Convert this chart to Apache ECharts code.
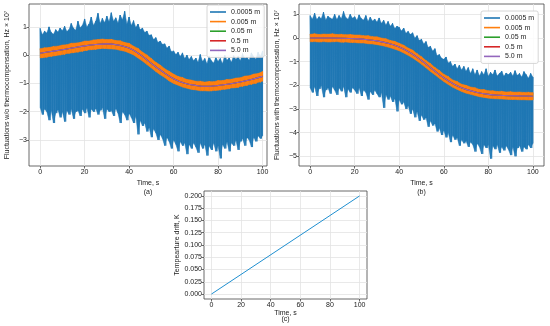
<!DOCTYPE html>
<html><head><meta charset="utf-8">
<script src="https://cdn.jsdelivr.net/npm/echarts@6/dist/echarts.min.js"></script>
<style>html,body{margin:0;padding:0;background:#fff}#c{width:550px;height:326px}</style>
</head><body><div id="c"></div>
<script>
// ---------- categories / ticks ----------
const legendNames = ['0.0005 m', '0.005 m', '0.05 m', '0.5 m', '5.0 m'];
const xTicks = [0, 20, 40, 60, 80, 100];
const yTicksA = [-3, -2, -1, 0, 1];
const yTicksB = [-5, -4, -3, -2, -1, 0, 1];
const yTicksC = [0, 0.025, 0.05, 0.075, 0.1, 0.125, 0.15, 0.175, 0.2];
const blueStep = 1, orangeStep = 2, curveStep = 5;

// ---------- panel (a): w/o thermocompensation ----------
const blueHiA = [
  0.95,0.72,0.85,0.78,1.0,0.8,0.74,0.9,0.82,0.96,
  0.86,1.02,0.84,0.9,1.12,0.95,0.88,1.2,0.97,1.05,
  1.28,1.0,1.1,1.35,1.05,1.2,1.48,1.12,1.3,1.15,
  1.38,1.18,1.5,1.2,1.32,1.14,1.42,1.25,1.55,1.1,
  1.35,1.05,1.22,0.98,1.1,0.9,0.96,0.8,0.85,0.7,
  0.72,0.55,0.62,0.45,0.5,0.38,0.4,0.25,0.32,0.12,
  0.15,0.02,0.1,-0.05,0.08,-0.12,0.0,-0.15,-0.05,-0.2,
  -0.1,-0.25,0.02,-0.22,-0.12,-0.3,-0.05,-0.2,-0.28,-0.08,
  -0.22,-0.12,-0.3,0.0,-0.18,-0.1,-0.25,-0.02,-0.15,-0.05,
  -0.2,0.05,-0.12,-0.08,-0.18,0.08,-0.06,-0.14,0.1,-0.04,
  0.15];
const blueLoA = [
  -1.85,-2.1,-1.9,-2.0,-2.3,-1.95,-2.4,-2.05,-1.92,-2.2,
  -2.0,-2.35,-1.95,-2.1,-1.9,-2.25,-2.0,-1.95,-2.15,-1.9,
  -2.05,-1.85,-2.2,-1.9,-2.0,-1.88,-2.1,-1.95,-1.85,-2.25,
  -1.9,-2.0,-1.95,-2.15,-1.88,-2.05,-2.4,-2.0,-2.1,-2.3,
  -2.05,-2.2,-2.4,-2.15,-2.8,-2.3,-2.5,-2.4,-2.7,-2.55,
  -2.9,-2.6,-2.75,-3.0,-2.8,-2.95,-3.2,-2.9,-3.05,-3.3,
  -3.0,-3.15,-3.4,-3.05,-3.2,-3.1,-3.5,-3.15,-3.3,-3.1,
  -3.25,-3.45,-3.1,-3.3,-3.15,-3.55,-3.2,-3.35,-3.1,-3.4,
  -3.2,-3.65,-3.15,-3.3,-3.05,-3.4,-3.1,-3.2,-3.0,-3.35,
  -3.05,-2.95,-3.2,-2.9,-3.0,-3.25,-2.9,-3.05,-2.85,-2.95,
  -2.85];
const orangeHiA = [
  0.23,0.26,0.27,0.31,0.32,0.36,0.37,0.42,0.43,0.45,
  0.50,0.50,0.54,0.55,0.57,0.55,0.56,0.52,0.51,0.45,
  0.42,0.32,0.24,0.11,0.01,-0.12,-0.25,-0.35,-0.48,-0.57,
  -0.67,-0.75,-0.79,-0.86,-0.88,-0.92,-0.92,-0.95,-0.93,-0.94,
  -0.90,-0.90,-0.86,-0.85,-0.81,-0.80,-0.74,-0.73,-0.67,-0.65,
  -0.58];
const orangeLoA = [
  -0.10,-0.08,-0.05,-0.03,0.00,0.02,0.06,0.08,0.10,0.13,
  0.16,0.19,0.20,0.22,0.24,0.23,0.22,0.21,0.17,0.14,
  0.08,0.01,-0.10,-0.21,-0.33,-0.45,-0.58,-0.69,-0.79,-0.91,
  -1.00,-1.06,-1.13,-1.17,-1.21,-1.23,-1.26,-1.26,-1.27,-1.25,
  -1.24,-1.21,-1.20,-1.16,-1.15,-1.11,-1.08,-1.04,-1.01,-0.96,
  -0.92];
const greenA  = [0.07,0.13,0.19,0.26,0.33,0.38,0.40,0.36,0.25,0.02,-0.29,-0.58,-0.83,-0.99,-1.07,-1.10,-1.07,-1.02,-0.95,-0.86,-0.75];
const redA    = [0.07,0.13,0.19,0.26,0.33,0.38,0.40,0.36,0.25,0.02,-0.29,-0.58,-0.83,-0.99,-1.07,-1.10,-1.07,-1.02,-0.95,-0.86,-0.75];
const purpleA = [0.07,0.13,0.19,0.26,0.33,0.38,0.40,0.36,0.25,0.02,-0.29,-0.58,-0.83,-0.99,-1.07,-1.10,-1.07,-1.02,-0.95,-0.86,-0.75];

// ---------- panel (b): with thermocompensation ----------
const blueHiB = [
  0.95,0.8,1.05,0.78,0.9,0.82,1.1,0.76,0.92,0.85,
  0.8,1.0,0.78,0.95,0.82,1.12,0.86,0.8,1.0,0.84,
  0.9,0.75,0.98,0.82,0.76,0.95,0.7,0.88,0.72,0.8,
  0.68,0.85,0.62,0.75,0.55,0.7,0.5,0.62,0.4,0.5,
  0.45,0.3,0.42,0.2,0.28,0.15,0.22,0.0,0.1,-0.1,
  -0.05,-0.25,-0.15,-0.4,-0.35,-0.55,-0.45,-0.75,-0.7,-0.85,
  -0.9,-0.8,-1.05,-1.0,-1.2,-1.1,-1.3,-1.15,-1.35,-1.2,
  -1.4,-1.25,-1.5,-1.3,-1.55,-1.35,-1.6,-1.42,-1.55,-1.3,
  -1.62,-1.45,-1.55,-1.35,-1.6,-1.5,-1.4,-1.62,-1.48,-1.55,
  -1.45,-1.6,-1.38,-1.58,-1.5,-1.65,-1.42,-1.55,-1.7,-1.5,
  -1.65];
const blueLoB = [
  -2.1,-2.3,-2.05,-2.45,-2.15,-2.0,-2.5,-2.2,-2.1,-2.35,
  -2.05,-2.2,-2.4,-2.1,-2.25,-2.05,-2.5,-2.15,-2.3,-2.1,
  -2.2,-2.35,-2.1,-2.45,-2.2,-2.3,-2.6,-2.25,-2.4,-2.2,
  -2.35,-2.5,-2.3,-2.95,-2.4,-2.6,-2.45,-2.7,-2.55,-3.1,
  -2.6,-2.8,-2.7,-3.0,-2.85,-3.2,-3.0,-3.35,-3.1,-3.5,
  -3.25,-3.45,-3.35,-3.75,-3.5,-3.7,-3.6,-3.95,-3.8,-4.1,
  -3.9,-4.2,-4.0,-4.4,-4.1,-4.3,-4.2,-4.55,-4.3,-4.45,
  -4.35,-4.6,-4.4,-4.5,-4.8,-4.45,-4.6,-4.9,-4.5,-4.65,
  -4.5,-5.1,-4.55,-4.7,-4.5,-4.85,-4.6,-4.75,-4.55,-4.7,
  -4.95,-4.6,-5.0,-4.65,-4.55,-4.8,-4.6,-4.7,-4.5,-4.65,
  -4.45];
const orangeHiB = [
  0.16,0.18,0.15,0.17,0.16,0.18,0.15,0.16,0.14,0.15,
  0.13,0.13,0.10,0.10,0.06,0.05,0.00,-0.03,-0.10,-0.14,
  -0.22,-0.30,-0.42,-0.51,-0.66,-0.79,-0.95,-1.08,-1.24,-1.37,
  -1.53,-1.63,-1.77,-1.84,-1.95,-2.00,-2.07,-2.10,-2.17,-2.18,
  -2.23,-2.23,-2.26,-2.25,-2.28,-2.27,-2.29,-2.28,-2.30,-2.29,
  -2.31];
const orangeLoB = [
  -0.16,-0.15,-0.17,-0.15,-0.17,-0.16,-0.15,-0.18,-0.17,-0.19,
  -0.19,-0.21,-0.21,-0.24,-0.25,-0.28,-0.31,-0.36,-0.41,-0.47,
  -0.54,-0.63,-0.73,-0.84,-0.97,-1.11,-1.26,-1.41,-1.55,-1.70,
  -1.84,-1.96,-2.08,-2.17,-2.26,-2.33,-2.38,-2.43,-2.48,-2.51,
  -2.54,-2.56,-2.57,-2.58,-2.59,-2.60,-2.60,-2.61,-2.61,-2.62,
  -2.62];
const greenB  = [0.0,0.0,0.0,-0.01,-0.03,-0.06,-0.12,-0.22,-0.38,-0.62,-0.95,-1.32,-1.68,-1.97,-2.17,-2.30,-2.38,-2.42,-2.44,-2.45,-2.46];
const redB    = [0.0,0.0,0.0,-0.01,-0.03,-0.06,-0.12,-0.22,-0.38,-0.62,-0.95,-1.32,-1.68,-1.97,-2.17,-2.30,-2.38,-2.42,-2.44,-2.45,-2.46];
const purpleB = [0.0,0.0,0.0,-0.01,-0.03,-0.06,-0.12,-0.22,-0.38,-0.62,-0.95,-1.32,-1.68,-1.97,-2.17,-2.30,-2.38,-2.42,-2.44,-2.45,-2.46];

// ---------- panel (c): temperature drift ----------
const driftTime = [0, 100];
const driftK = [0.0, 0.2];

// ---------- build ----------
const COLORS = ['#1f77b4', '#ff7f0e', '#2ca02c', '#d62728', '#9467bd'];
const FONT = 'Liberation Sans, Arial, sans-serif';

function zigzag(hi, lo, step) {
  const pts = [], end = (hi.length - 1) * step;
  for (let i = 0; i < hi.length; i++) {
    const t = i * step;
    pts.push([t, hi[i]]);
    pts.push([Math.min(t + step / 2, end), lo[i]]);
  }
  return pts;
}
function pairs(vals, step) { return vals.map((v, i) => [i * step, v]); }
const minus = v => String(v).replace('-', '\u2212');

function xAx(gi, min, max, nameTxt, gap, lh) {
  return {
    type: 'value', gridIndex: gi, min: min, max: max,
    axisLine: { show: false, onZero: false },
    axisTick: { show: true, length: 2.5, lineStyle: { color: '#444', width: 0.8 }, customValues: xTicks },
    axisLabel: { customValues: xTicks, fontSize: 7, color: '#222', fontFamily: FONT, margin: 2.5 },
    splitLine: { show: true, lineStyle: { color: '#e3e3e3', width: 0.8 } },
    name: nameTxt, nameLocation: 'middle', nameGap: gap,
    nameTextStyle: { fontSize: 7, color: '#222', fontFamily: FONT, lineHeight: lh }
  };
}
function yAx(gi, min, max, ticks, nameTxt, gap, fmt) {
  return {
    type: 'value', gridIndex: gi, min: min, max: max,
    axisLine: { show: false, onZero: false },
    axisTick: { show: true, length: 2.5, lineStyle: { color: '#444', width: 0.8 }, customValues: ticks },
    axisLabel: { customValues: ticks, fontSize: 7, color: '#222', fontFamily: FONT, margin: 2, formatter: fmt },
    splitLine: { show: true, lineStyle: { color: '#e3e3e3', width: 0.8 } },
    name: nameTxt, nameLocation: 'middle', nameGap: gap,
    nameTextStyle: { fontSize: 7, color: '#222', fontFamily: FONT }
  };
}
function legend(left, top) {
  return {
    orient: 'vertical', left: left, top: top, data: legendNames, selectedMode: false, z: 20,
    icon: 'rect', itemWidth: 16, itemHeight: 1.6, itemGap: 1.6,
    padding: [3, 4, 3, 3],
    textStyle: { fontSize: 7, color: '#222', fontFamily: FONT, lineHeight: 8 },
    backgroundColor: 'rgba(255,255,255,0.85)', borderColor: '#ccc', borderWidth: 0.8, borderRadius: 2
  };
}
const base = { type: 'line', showSymbol: false, symbol: 'none', silent: true, animation: false, sampling: 'none' };
// filled band between lo and hi, drawn through the axis scales (api.coord)
function band(ai, hi, lo, step, color, z) {
  const data = hi.map((h, i) => [i * step, lo[i], h]);
  return {
    type: 'custom', xAxisIndex: ai, yAxisIndex: ai, silent: true, animation: false, z: z,
    encode: { x: 0, y: [1, 2] }, data: data,
    renderItem: function (params, api) {
      const i = params.dataIndex;
      if (i >= data.length - 1) return null;
      const a = data[i], b = data[i + 1];
      const pts = [api.coord([a[0], a[2]]), api.coord([b[0], b[2]]), api.coord([b[0], b[1]]), api.coord([a[0], a[1]])];
      return { type: 'polygon', shape: { points: pts }, style: { fill: color, stroke: color, lineWidth: 0.5 } };
    }
  };
}
function panelSeries(ai, bHi, bLo, oHi, oLo, g, r, p) {
  const ax = { xAxisIndex: ai, yAxisIndex: ai };
  return [
    band(ai, bHi, bLo, blueStep, COLORS[0], 2),
    Object.assign({}, base, ax, { z: 3, name: legendNames[0], color: COLORS[0], data: zigzag(bHi, bLo, blueStep), lineStyle: { width: 0.8, color: COLORS[0] } }),
    band(ai, oHi, oLo, orangeStep, COLORS[1], 4),
    Object.assign({}, base, ax, { z: 5, name: legendNames[1], color: COLORS[1], data: zigzag(oHi, oLo, orangeStep), lineStyle: { width: 1, color: COLORS[1] } }),
    Object.assign({}, base, ax, { z: 6, name: legendNames[2], color: COLORS[2], data: pairs(g, curveStep), smooth: 0.4, lineStyle: { width: 1.1, color: COLORS[2] } }),
    Object.assign({}, base, ax, { z: 7, name: legendNames[3], color: COLORS[3], data: pairs(r, curveStep), smooth: 0.4, lineStyle: { width: 1.1, color: COLORS[3] } }),
    Object.assign({}, base, ax, { z: 8, name: legendNames[4], color: COLORS[4], data: pairs(p, curveStep), smooth: 0.4, lineStyle: { width: 1.1, color: COLORS[4] } })
  ];
}

const gridStyle = { show: true, borderColor: '#444', borderWidth: 0.8, backgroundColor: 'transparent' };
const option = {
  animation: false,
  grid: [
    Object.assign({ left: 29, top: 4, width: 238, height: 162 }, gridStyle),
    Object.assign({ left: 299, top: 4, width: 245, height: 162 }, gridStyle),
    Object.assign({ left: 204, top: 191, width: 163, height: 108 }, gridStyle)
  ],
  xAxis: [
    xAx(0, -5, 102, 'Time, s\n(a)', 12.5, 9),
    xAx(1, -5, 105, 'Time, s\n(b)', 12.5, 9),
    xAx(2, -5, 105, 'Time, s\n(c)', 9.5, 6.5)
  ],
  yAxis: [
    yAx(0, -3.92, 1.81, yTicksA, 'Fluctuations w/o thermocompensation, Hz \u00d7 10\u2077', 18, minus),
    yAx(1, -5.41, 1.44, yTicksB, 'Fluctuations with thermocompensation, Hz \u00d7 10\u2077', 18, minus),
    yAx(2, -0.01, 0.21, yTicksC, 'Tempearture drift, K', 23, v => v.toFixed(3))
  ],
  legend: [legend(207, 5), legend(481, 11)],
  series: [].concat(
    panelSeries(0, blueHiA, blueLoA, orangeHiA, orangeLoA, greenA, redA, purpleA),
    panelSeries(1, blueHiB, blueLoB, orangeHiB, orangeLoB, greenB, redB, purpleB),
    [Object.assign({}, base, { name: 'drift', xAxisIndex: 2, yAxisIndex: 2,
       data: driftTime.map((t, i) => [t, driftK[i]]), color: '#1f8fd0', lineStyle: { width: 1, color: '#1f8fd0' } })]
  )
};
const chart = echarts.init(document.getElementById('c'), null, { renderer: 'canvas' });
chart.setOption(option);
</script>
</body></html>
